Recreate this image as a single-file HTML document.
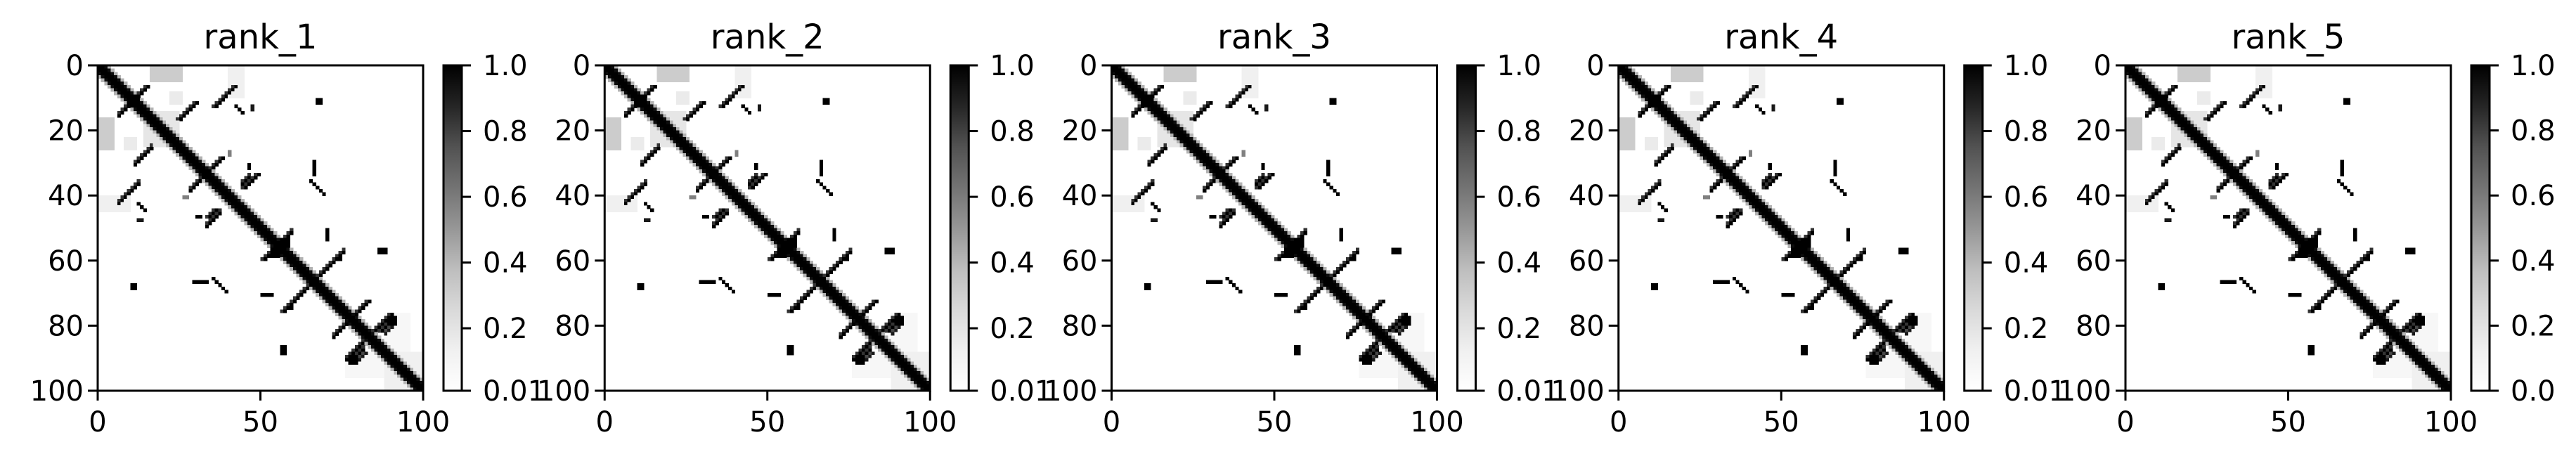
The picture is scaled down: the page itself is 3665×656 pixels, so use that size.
<!DOCTYPE html>
<html><head><meta charset="utf-8"><style>
html,body{margin:0;padding:0;background:#fff;}
svg{display:block;font-family:"DejaVu Sans","Liberation Sans",sans-serif;}
</style></head><body>
<svg id="fig" width="3665" height="656" viewBox="0 0 3665 656" xmlns="http://www.w3.org/2000/svg">
<defs>
<linearGradient id="greys" x1="0" y1="1" x2="0" y2="0">
<stop offset="0" stop-color="#ffffff"/><stop offset="0.125" stop-color="#f0f0f0"/><stop offset="0.25" stop-color="#d9d9d9"/><stop offset="0.375" stop-color="#bdbdbd"/><stop offset="0.5" stop-color="#969696"/><stop offset="0.625" stop-color="#737373"/><stop offset="0.75" stop-color="#525252"/><stop offset="0.875" stop-color="#252525"/><stop offset="1" stop-color="#000000"/>
</linearGradient>
</defs>
</svg>
<script>
// panel data
const panelTitles = ["rank_1","rank_2","rank_3","rank_4","rank_5"];
const cbarMinLabel = ["0.01","0.01","0.01","0.01","0.0"];
const cbarMin = [0.01,0.01,0.01,0.01,0.0];
const axisTicks = [0,20,40,60,80,100];
const xTicks = [0,50,100];
const cbarTicks = [0.2,0.4,0.6,0.8,1.0];
const N = 100;
// diagonal band profile: value at offset 0,1,2,3
const diagBand = [1,1,0.95,0.3];
// segments: start row, start col, length, direction (-1 antiparallel, 1 parallel, 0 vertical), value
const segRow = [6,11,6,29,35,33,28,57,51,72,76,78,50,12,30,44,12,26,88];
const segCol = [15,30,42,66,65,49,38,75,59,83,90,90,70,42,46,36,47,40,82];
const segLen = [9,6,7,5,5,5,10,19,9,11,6,4,4,3,2,3,2,2,4];
const segDir = [-1,-1,-1,0,1,-1,-1,-1,-1,-1,-1,-1,0,1,0,-1,0,0,-1];
const segVal = [1,1,1,1,1,1,1,1,1,1,1,1,1,1,1,1,0.9,0.5,0.9];
// blobs: row, col, size, value
const blobRow = [10,54,56,9,32,53,56,77,70,74];
const blobCol = [67,54,87,10,32,56,86,89,51,59];
const blobSize = [2,4,2,3,3,3,2,3,1,1];
const blobVal = [1,1,1,1,1,1,1,1,1,1];
// gray patches: row0,row1,col0,col1,value
const patchR0 = [0,14,40,8,88,92];
const patchR1 = [5,25,45,12,96,100];
const patchC0 = [16,17,0,22,76,88];
const patchC1 = [26,25,10,26,90,100];
const patchV = [0.2,0.1,0.06,0.08,0.03,0.06];

const M = [];
for (let i=0;i<N;i++){M.push(new Array(N).fill(0));}
function setv(i,j,v){
  if(i<0||j<0||i>=N||j>=N) return;
  if(v>M[i][j]) M[i][j]=v;
  if(v>M[j][i]) M[j][i]=v;
}
for(let k=0;k<patchV.length;k++){
  for(let i=patchR0[k];i<patchR1[k];i++) for(let j=patchC0[k];j<patchC1[k];j++) setv(i,j,patchV[k]);
}
for(let i=0;i<N;i++){
  for(let d=0;d<diagBand.length;d++){ setv(i,i+d,diagBand[d]); }
}
for(let k=0;k<segRow.length;k++){
  for(let t=0;t<segLen[k];t++){
    const i=segRow[k]+t;
    const j=segDir[k]===0?segCol[k]:segCol[k]+segDir[k]*t;
    setv(i,j,segVal[k]);
    if(segDir[k]===-1) setv(i,j-1,segVal[k]*0.8);
  }
}
for(let k=0;k<blobRow.length;k++){
  for(let a=0;a<blobSize[k];a++) for(let b=0;b<blobSize[k];b++) setv(blobRow[k]+a,blobCol[k]+b,blobVal[k]);
}

const NS="http://www.w3.org/2000/svg";
const svg=document.getElementById('fig');
function el(tag,attrs,parent){const e=document.createElementNS(NS,tag);for(const k in attrs)e.setAttribute(k,attrs[k]);(parent||svg).appendChild(e);return e;}
function grey(v){const c=Math.round(255*(1-v));return `rgb(${c},${c},${c})`;}

const PITCH=721.25, AX0=139, TOP=93, SIZE=463, CB_OFF=492, CB_W=26;
for(let p=0;p<panelTitles.length;p++){
  const ax=AX0+PITCH*p;
  const g=el('g',{});
  
  
  const sx=v=>ax+v/N*SIZE;
  const sy=v=>TOP+v/N*SIZE;
  const hm=el('g',{'shape-rendering':'crispEdges'},g);
  
  
  for(let i=0;i<N;i++)for(let j=0;j<N;j++){
    const v=M[i][j]; if(v<=0.02) continue;
    const r=el('rect',{x:sx(j),y:sy(i),width:SIZE/N+0.6,height:SIZE/N+0.6,fill:grey(v)},hm);
    
    
  }
  const frame=el('rect',{x:ax,y:TOP,width:SIZE,height:SIZE,fill:'none',stroke:'#000','stroke-width':3},g);
  
  
  const t=el('text',{x:ax+SIZE/2,y:69,'font-size':48,'text-anchor':'middle'},g);
  t.textContent=panelTitles[p];
  
  
  for(const v of axisTicks){
    el('line',{x1:ax-14,x2:ax,y1:sy(v),y2:sy(v),stroke:'#000','stroke-width':3},g);
    const tl=el('text',{x:ax-20,y:sy(v)+14,'font-size':40,'text-anchor':'end'},g);
    tl.textContent=String(v);
    
    
  }
  for(const v of xTicks){
    el('line',{x1:sx(v),x2:sx(v),y1:TOP+SIZE,y2:TOP+SIZE+14,stroke:'#000','stroke-width':3},g);
    const tl=el('text',{x:sx(v),y:TOP+SIZE+58,'font-size':40,'text-anchor':'middle'},g);
    tl.textContent=String(v);
    
    
  }
  const cx=ax+CB_OFF;
  const cb=el('rect',{x:cx,y:TOP,width:CB_W,height:SIZE,fill:'url(#greys)',stroke:'#000','stroke-width':3},g);
  
  
  const cy=v=>TOP+SIZE-(v-cbarMin[p])/(1-cbarMin[p])*SIZE;
  const labs=cbarTicks.map(v=>[v,v.toFixed(1)]).concat([[cbarMin[p],cbarMinLabel[p]]]);
  for(const [v,lab] of labs){
    el('line',{x1:cx+CB_W,x2:cx+CB_W+13,y1:cy(v),y2:cy(v),stroke:'#000','stroke-width':3},g);
    const tl=el('text',{x:cx+CB_W+30,y:cy(v)+14,'font-size':40},g);
    tl.textContent=lab;
    
    
  }
}
</script>
</body></html>
